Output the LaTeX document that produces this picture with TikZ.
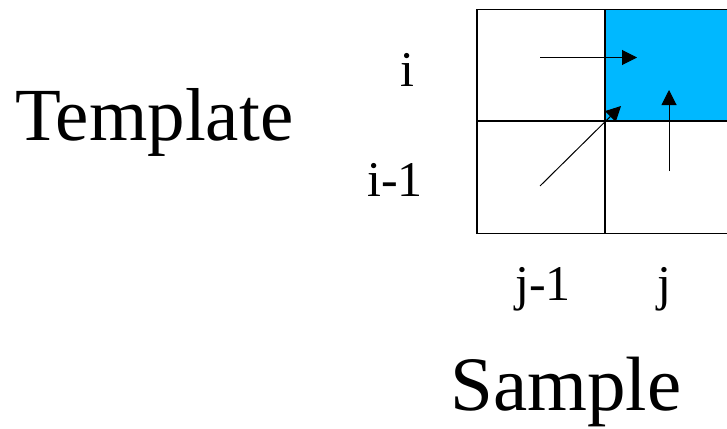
\documentclass[tikz,border=0pt]{standalone}
\usepackage{fontspec}
\setmainfont{Liberation Serif}
\usetikzlibrary{arrows.meta}
\definecolor{cellblue}{HTML}{00B8FF}
\tikzset{
  big/.style={inner sep=0pt, font=\fontsize{75}{86}\selectfont},
  idx/.style={inner sep=0pt, anchor=base, font=\fontsize{50}{60}\selectfont},
  gridline/.style={line width=1.3pt, black},
  arr/.style={line width=1pt, -{Triangle[length=15pt,width=15pt]}}
}
\begin{document}
\begin{tikzpicture}[x=1pt,y=-1pt]
\useasboundingbox (0,0) rectangle (727,428);
\clip (0,0) rectangle (727,428);
% filled cell
\fill[cellblue] (605,9.5) rectangle (740,121);
% grid
\draw[gridline] (477,9.5) rectangle (740,233.5);
\draw[gridline] (477,121) -- (740,121);
\draw[gridline] (605,9.5) -- (605,233.5);
% arrow end points
\coordinate (h1) at (540,57.5);
\coordinate (h2) at (637,57.5);
\coordinate (d1) at (540,186);
\coordinate (d2) at (621,106);
\coordinate (v1) at (669,171);
\coordinate (v2) at (669,90);
\draw[arr] (h1) -- (h2);
\draw[arr] (d1) -- (d2);
\draw[arr] (v1) -- (v2);
% labels
\node[big, anchor=base west] (template) at (15,140) {Template};
\node[big, anchor=base, font=\fontsize{77}{88}\selectfont] (sample) at (566,410) {Sample};
\node[idx] (li) at (407,86) {i};
\node[idx] (li1) at (395,196) {i-1};
\node[idx] (lj1) at (543,300) {j-1};
\node[idx] (lj) at (664,300) {j};
\end{tikzpicture}
\end{document}
